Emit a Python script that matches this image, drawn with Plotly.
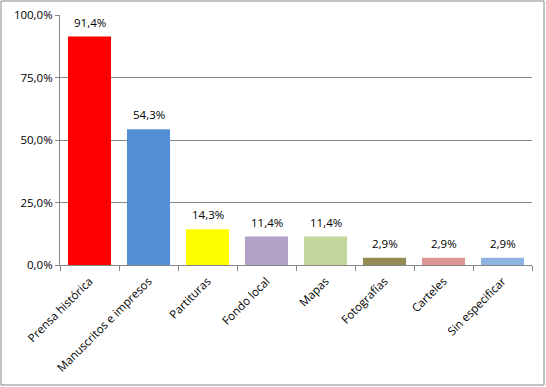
import plotly.graph_objects as go

categories = ["Prensa histórica", "Manuscritos e impresos", "Partituras", "Fondo local",
              "Mapas", "Fotografías", "Carteles", "Sin especificar"]
values = [0.914, 0.543, 0.143, 0.114, 0.114, 0.029, 0.029, 0.029]
colors = ["#FF0000", "#558ED5", "#FFFF00", "#B3A2C7", "#C3D69B", "#948A54", "#D99694", "#8EB4E3"]
y_ticks = [0, 0.25, 0.5, 0.75, 1.0]

W, H = 546, 387
L, R, T, B = 60, 14, 15, 122
pw, ph = W - L - R, H - T - B

font = dict(family="Open Sans", size=11.5, color="#000000")

fig = go.Figure(go.Bar(
    x=categories, y=values, marker=dict(color=colors, line=dict(width=0)),
    hoverinfo="skip",
))

for c, v in zip(categories, values):
    fig.add_annotation(x=c, y=v, text=f"{v*100:.1f}%".replace(".", ","),
                       showarrow=False, yanchor="bottom", yshift=5, font=font)

fig.update_layout(
    width=W, height=H, margin=dict(l=L, r=R, t=T, b=B, autoexpand=False),
    paper_bgcolor="white", plot_bgcolor="white",
    separators=",.", bargap=0.27, showlegend=False,
    font=font,
    xaxis=dict(tickangle=-45, tickson="boundaries", ticks="outside", ticklen=5,
               tickcolor="#868686", showline=True, linecolor="#868686", linewidth=1,
               showgrid=False, tickfont=font, automargin=False, ticklabelstandoff=4),
    yaxis=dict(range=[0, 1.0], tickvals=y_ticks, tickformat=".1%", ticks="outside",
               ticklen=4, tickcolor="#868686", showline=True, linecolor="#868686",
               linewidth=1, showgrid=True, gridcolor="#868686", gridwidth=1,
               zeroline=False, tickfont=font, automargin=False),
    shapes=[dict(type="rect", xref="paper", yref="paper",
                 x0=(1 - L) / pw, x1=(544 - L) / pw,
                 y0=(265 - 385) / ph, y1=(265 - 1) / ph,
                 line=dict(color="#868686", width=1))],
)

fig.write_html("out.html", config={"displayModeBar": False},
               post_script="document.body.style.margin='0';document.body.style.overflow='hidden';")
